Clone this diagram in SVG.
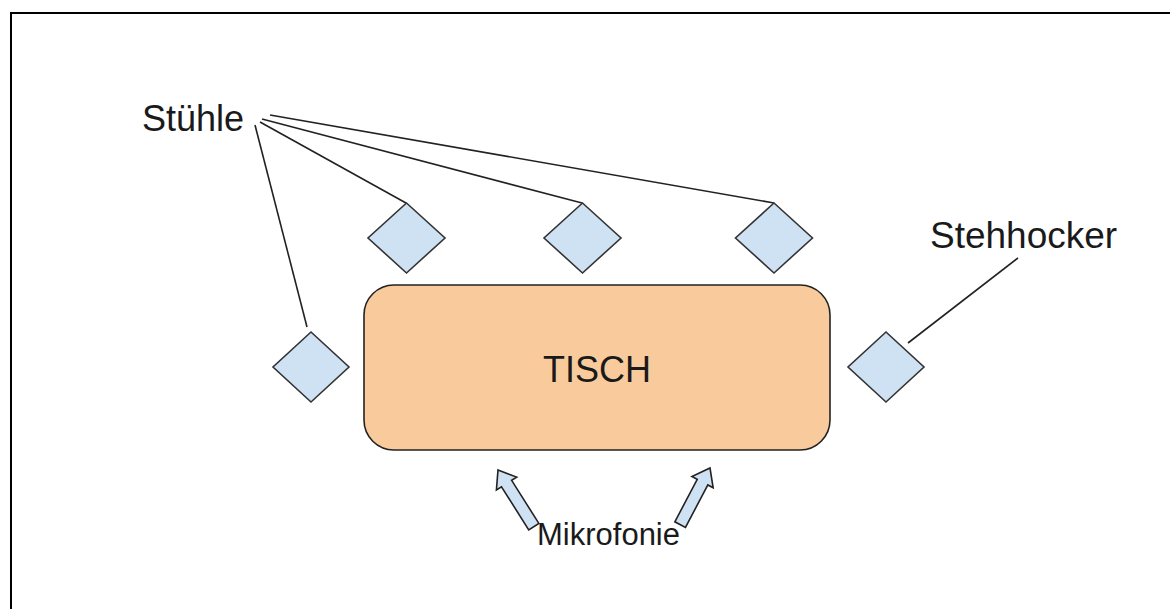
<svg xmlns="http://www.w3.org/2000/svg" width="1170" height="609" viewBox="0 0 1170 609">
<style>
.lbl{font-family:"Liberation Sans",Arial,sans-serif;fill:#1a1a1a}
.chair{fill:#cfe2f3;stroke:#333;stroke-width:1.6}
.conn{stroke:#222;stroke-width:1.6;fill:none}
.mic{fill:#cfe2f3;stroke:#222;stroke-width:1.6;stroke-linejoin:miter}
</style>
<rect width="1170" height="609" fill="#fff"/>
<path d="M11,609 V13 H1170" fill="none" stroke="#000" stroke-width="2"/>
<g id="connectors">
<line class="conn" x1="255" y1="125" x2="307" y2="327"/>
<line class="conn" x1="260" y1="122" x2="406" y2="203"/>
<line class="conn" x1="262" y1="119" x2="582" y2="203"/>
<line class="conn" x1="270" y1="115" x2="774" y2="203"/>
<line class="conn" x1="1018" y1="258" x2="908" y2="343"/>
</g>
<g id="tisch">
<rect x="364" y="285" width="466" height="165" rx="30" ry="30" fill="#f9cb9c" stroke="#222" stroke-width="1.6"/>
<text class="lbl" x="597" y="382" font-size="36" text-anchor="middle">TISCH</text>
</g>
<g id="stuhl1"><polygon class="chair" points="406.5,203 445,238 406.5,273 368,238"/></g>
<g id="stuhl2"><polygon class="chair" points="582.5,203 621,238 582.5,273 544,238"/></g>
<g id="stuhl3"><polygon class="chair" points="774,203 812.5,238 774,273 735.5,238"/></g>
<g id="stuhl4"><polygon class="chair" points="311,332 349,367 311,402 273,367"/></g>
<g id="stehhocker"><polygon class="chair" points="886,332 924,367 886,402 848,367"/></g>
<g id="label-stuehle"><text class="lbl" x="142" y="131" font-size="36">Stühle</text></g>
<g id="label-stehhocker"><text class="lbl" x="930" y="248" font-size="37">Stehhocker</text></g>
<g id="mic1"><polygon class="mic" transform="translate(498,470) rotate(-32.3)" points="0,0 12,16 6,16 6,67 -6,67 -6,16 -12,16"/></g>
<g id="mic2"><polygon class="mic" transform="translate(710,468) rotate(27.8)" points="0,0 12,16 6,16 6,64 -6,64 -6,16 -12,16"/></g>
<g id="label-mikrofonie"><text class="lbl" x="537" y="545" font-size="31">Mikrofonie</text></g>
</svg>
